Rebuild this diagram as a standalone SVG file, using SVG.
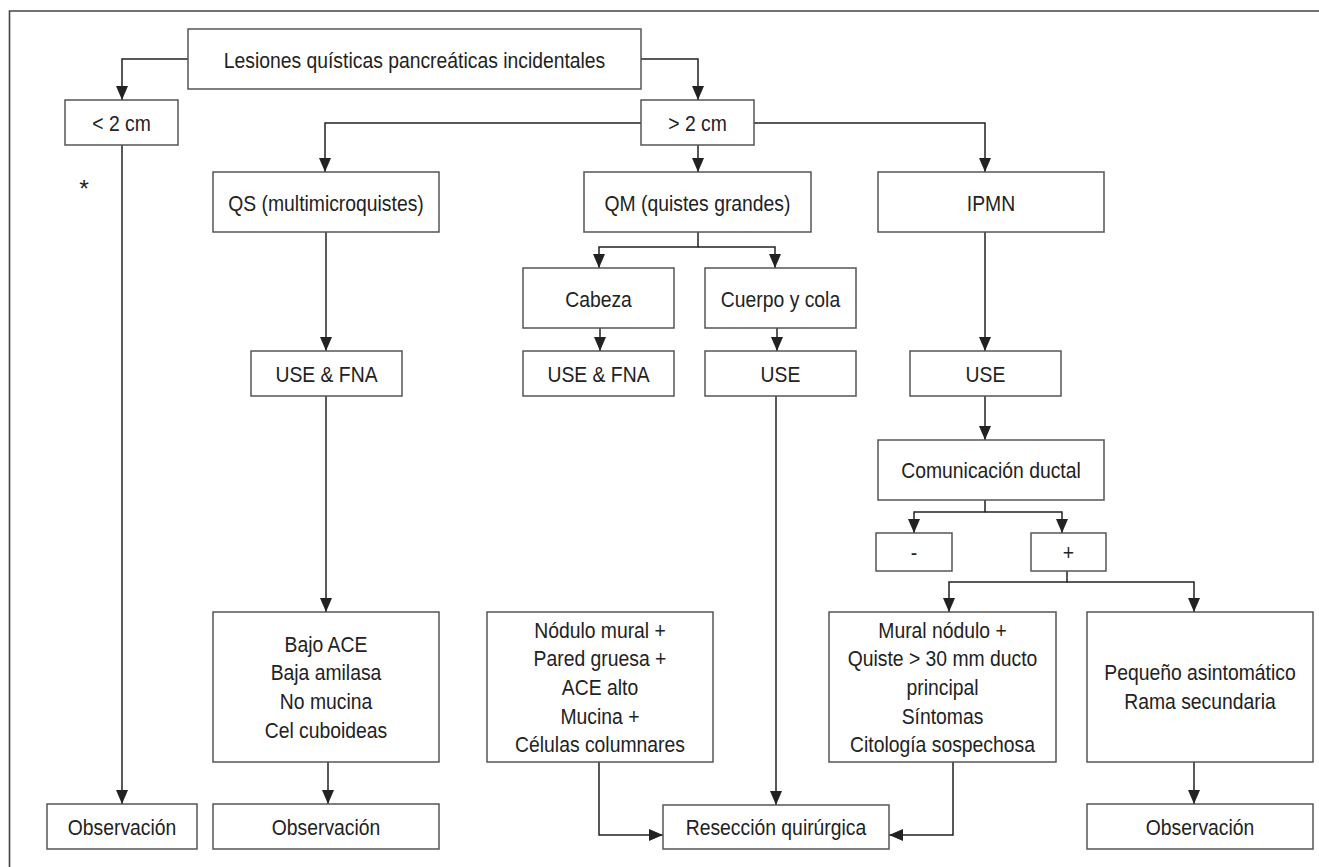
<svg xmlns="http://www.w3.org/2000/svg" width="1319" height="867" viewBox="0 0 1319 867">
<style>
.box{fill:#fff;stroke:#555;stroke-width:1.5}
.c{fill:none;stroke:#222;stroke-width:1.5}
.frame{fill:none;stroke:#444;stroke-width:1.6}
text{font-family:"Liberation Sans",Arial,sans-serif;font-size:22.5px;fill:#222;text-anchor:middle}
</style>
<defs>
<marker id="ah" markerUnits="userSpaceOnUse" markerWidth="14" markerHeight="12" refX="14" refY="6" orient="auto">
<path d="M0,0 L14,6 L0,12 z" fill="#222"/>
</marker>
</defs>
<rect width="1319" height="867" fill="#fff"/>
<path class="frame" d="M9.5,867 V11 H1319"/>
<g id="connectors">
<path class="c" d="M188,59 H122 V100" marker-end="url(#ah)"/>
<path class="c" d="M641,59 H698 V100" marker-end="url(#ah)"/>
<path class="c" d="M641,123 H325 V172" marker-end="url(#ah)"/>
<path class="c" d="M698,145 V172" marker-end="url(#ah)"/>
<path class="c" d="M754,123 H985 V172" marker-end="url(#ah)"/>
<path class="c" d="M122,145 V804" marker-end="url(#ah)"/>
<path class="c" d="M326,232 V351" marker-end="url(#ah)"/>
<path class="c" d="M326,396 V612" marker-end="url(#ah)"/>
<path class="c" d="M328,762 V804" marker-end="url(#ah)"/>
<path class="c" d="M698,232 V247 H599 V268" marker-end="url(#ah)"/>
<path class="c" d="M698,247 H775 V268" marker-end="url(#ah)"/>
<path class="c" d="M600,328 V351" marker-end="url(#ah)"/>
<path class="c" d="M777,328 V351" marker-end="url(#ah)"/>
<path class="c" d="M776,396 V805" marker-end="url(#ah)"/>
<path class="c" d="M599,762 V835 H663" marker-end="url(#ah)"/>
<path class="c" d="M985,232 V351" marker-end="url(#ah)"/>
<path class="c" d="M985,396 V440" marker-end="url(#ah)"/>
<path class="c" d="M985,500 V512 H914 V533" marker-end="url(#ah)"/>
<path class="c" d="M985,512 H1062 V533" marker-end="url(#ah)"/>
<path class="c" d="M1067,571 V582 H949 V612" marker-end="url(#ah)"/>
<path class="c" d="M1067,582 H1194 V612" marker-end="url(#ah)"/>
<path class="c" d="M953,762 V835 H889" marker-end="url(#ah)"/>
<path class="c" d="M1194,762 V804" marker-end="url(#ah)"/>
</g>
<g id="n-root"><rect class="box" x="188" y="29" width="453" height="60"/><text transform="translate(414.5,67.5) scale(0.86,1)">Lesiones quísticas pancreáticas incidentales</text></g>
<g id="n-lt2"><rect class="box" x="65" y="100" width="113" height="45"/><text transform="translate(121.5,131) scale(0.86,1)">&lt; 2 cm</text></g>
<g id="n-gt2"><rect class="box" x="641" y="100" width="113" height="45"/><text transform="translate(697.5,131) scale(0.86,1)">&gt; 2 cm</text></g>
<g id="n-star"><text transform="translate(84,197) scale(1.1,1.1)">*</text></g>
<g id="n-qs"><rect class="box" x="213" y="172" width="226" height="60"/><text transform="translate(326,210.5) scale(0.86,1)">QS (multimicroquistes)</text></g>
<g id="n-qm"><rect class="box" x="584" y="172" width="227" height="60"/><text transform="translate(697.5,210.5) scale(0.86,1)">QM (quistes grandes)</text></g>
<g id="n-ipmn"><rect class="box" x="878" y="172" width="226" height="60"/><text transform="translate(991,210.5) scale(0.86,1)">IPMN</text></g>
<g id="n-cabeza"><rect class="box" x="523" y="268" width="151" height="60"/><text transform="translate(598.5,306.5) scale(0.86,1)">Cabeza</text></g>
<g id="n-cuerpo"><rect class="box" x="705" y="268" width="151" height="60"/><text transform="translate(780.5,306.5) scale(0.86,1)">Cuerpo y cola</text></g>
<g id="n-usefna1"><rect class="box" x="251" y="351" width="151" height="45"/><text transform="translate(326.5,382) scale(0.86,1)">USE &amp; FNA</text></g>
<g id="n-usefna2"><rect class="box" x="523" y="351" width="151" height="45"/><text transform="translate(598.5,382) scale(0.86,1)">USE &amp; FNA</text></g>
<g id="n-use1"><rect class="box" x="705" y="351" width="151" height="45"/><text transform="translate(780.5,382) scale(0.86,1)">USE</text></g>
<g id="n-use2"><rect class="box" x="910" y="351" width="151" height="45"/><text transform="translate(985.5,382) scale(0.86,1)">USE</text></g>
<g id="n-com"><rect class="box" x="878" y="440" width="226" height="60"/><text transform="translate(991,477.5) scale(0.86,1)">Comunicación ductal</text></g>
<g id="n-minus"><rect class="box" x="876" y="533" width="76" height="38"/><text transform="translate(914,560) scale(0.86,1)">-</text></g>
<g id="n-plus"><rect class="box" x="1031" y="533" width="75" height="38"/><text transform="translate(1068.5,560) scale(0.86,1)">+</text></g>
<g id="n-bajo"><rect class="box" x="213" y="612" width="226" height="150"/><text transform="translate(326,651.5) scale(0.86,1)"><tspan x="0" dy="0">Bajo ACE</tspan><tspan x="0" dy="28.7">Baja amilasa</tspan><tspan x="0" dy="28.7">No mucina</tspan><tspan x="0" dy="28.7">Cel cuboideas</tspan></text></g>
<g id="n-nodulo"><rect class="box" x="487" y="612" width="226" height="150"/><text transform="translate(600,637.7) scale(0.86,1)"><tspan x="0" dy="0">Nódulo mural +</tspan><tspan x="0" dy="28.7">Pared gruesa +</tspan><tspan x="0" dy="28.7">ACE alto</tspan><tspan x="0" dy="28.7">Mucina +</tspan><tspan x="0" dy="28.7">Células columnares</tspan></text></g>
<g id="n-mural"><rect class="box" x="829" y="612" width="227" height="150"/><text transform="translate(942.5,637.7) scale(0.86,1)"><tspan x="0" dy="0">Mural nódulo +</tspan><tspan x="0" dy="28.7">Quiste &gt; 30 mm ducto</tspan><tspan x="0" dy="28.7">principal</tspan><tspan x="0" dy="28.7">Síntomas</tspan><tspan x="0" dy="28.7">Citología sospechosa</tspan></text></g>
<g id="n-pequeno"><rect class="box" x="1087" y="612" width="226" height="150"/><text transform="translate(1200,680) scale(0.86,1)"><tspan x="0" dy="0">Pequeño asintomático</tspan><tspan x="0" dy="28.7">Rama secundaria</tspan></text></g>
<g id="n-obs1"><rect class="box" x="47" y="804" width="150" height="45"/><text transform="translate(122,835) scale(0.86,1)">Observación</text></g>
<g id="n-obs2"><rect class="box" x="213" y="804" width="226" height="45"/><text transform="translate(326,835) scale(0.86,1)">Observación</text></g>
<g id="n-resec"><rect class="box" x="663" y="805" width="226" height="44"/><text transform="translate(776,835) scale(0.86,1)">Resección quirúrgica</text></g>
<g id="n-obs3"><rect class="box" x="1087" y="804" width="226" height="45"/><text transform="translate(1200,835) scale(0.86,1)">Observación</text></g>
</svg>
